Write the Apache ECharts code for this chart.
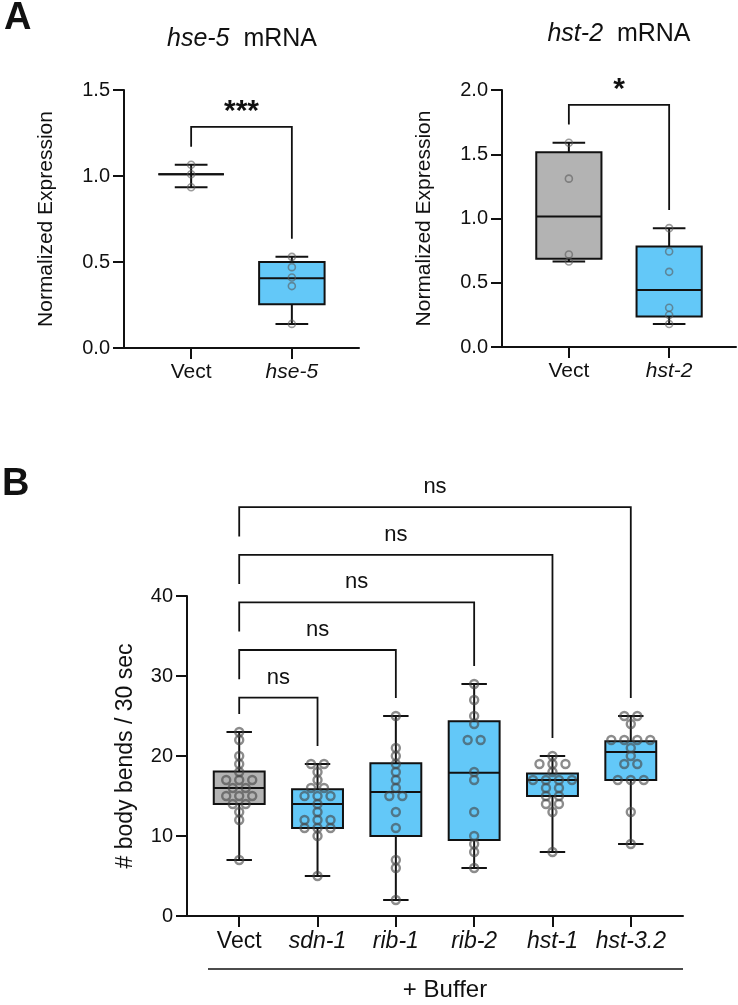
<!DOCTYPE html>
<html><head><meta charset="utf-8">
<script src="https://cdn.jsdelivr.net/npm/echarts@6/dist/echarts.min.js"></script>
<style>html,body{margin:0;padding:0;background:#fff}#c{width:738px;height:1005px}</style>
</head><body><div id="c"></div>
<script>
// ---------------- Data ----------------
// Panel A, left: hse-5 mRNA
const hse5Categories = ['Vect', 'hse-5'];
const hse5Points = [
  [1.065, 1.01, 0.935],
  [0.53, 0.47, 0.41, 0.36, 0.14]
];
// [min, Q1, median, Q3, max]
const hse5Box = [
  [0.935, 1.01, 1.01, 1.01, 1.065],
  [0.14, 0.255, 0.405, 0.50, 0.53]
];
const hse5Sig = '***';

// Panel A, right: hst-2 mRNA
const hst2Categories = ['Vect', 'hst-2'];
const hst2Points = [
  [1.59, 1.31, 0.72, 0.665],
  [0.925, 0.743, 0.585, 0.305, 0.249, 0.179]
];
const hst2Box = [
  [0.665, 0.686, 1.015, 1.515, 1.59],
  [0.179, 0.238, 0.443, 0.782, 0.925]
];
const hst2Sig = '*';

// Panel B: body bends / 30 sec
const bendCategories = ['Vect', 'sdn-1', 'rib-1', 'rib-2', 'hst-1', 'hst-3.2'];
const bendPoints = [
  [23, 22, 20, 19, 18, 17, 17, 17, 16, 16, 15, 15, 15, 14, 14, 13, 12, 7],
  [19, 19, 18, 17, 16, 16, 15, 15, 15, 14, 13, 12, 12, 12, 11, 11, 11, 10, 5],
  [25, 21, 20, 19, 18, 17, 16, 15, 15, 13, 11, 7, 6, 2],
  [29, 27, 25, 24, 22, 22, 18, 17, 13, 10, 9, 8, 6],
  [20, 19, 19, 19, 18, 17, 17, 17, 17, 16, 16, 15, 15, 14, 14, 13, 8],
  [25, 25, 24, 22, 22, 22, 22, 21, 20, 19, 19, 17, 17, 17, 13, 9]
];
const bendBox = [
  [7, 14, 16, 18.05, 23],
  [5, 11, 14, 15.85, 19],
  [2, 10, 15.5, 19.1, 25],
  [6, 9.5, 17.9, 24.35, 29],
  [8, 15, 17, 17.8, 20],
  [9, 17, 20.5, 21.85, 25]
];
const bendSig = ['ns', 'ns', 'ns', 'ns', 'ns'];
const bendGroupLabel = '+ Buffer';

// ---------------- Styling / helpers ----------------
const FONT = '"Liberation Sans", Arial, Helvetica, sans-serif';
const INK = '#111';
const GREY = '#b3b3b3';
const BLUE = '#63c8f8';
const BOX_W = 0.65, CAP_W = 0.325;

function boxSeries(idx, boxes, lw) {
  return {
    type: 'custom', xAxisIndex: idx, yAxisIndex: idx, z: 2, clip: false, silent: true,
    data: boxes.map((b, i) => [i + 1].concat(b)),
    encode: { x: 0, y: [1, 2, 3, 4, 5] },
    renderItem(params, api) {
      const x = api.value(0);
      const mn = api.value(1), q1 = api.value(2), md = api.value(3), q3 = api.value(4), mx = api.value(5);
      const c = api.coord([x, md])[0];
      const y = v => api.coord([x, v])[1];
      const hw = api.size([BOX_W, 0])[0] / 2;
      const hc = api.size([CAP_W, 0])[0] / 2;
      const st = { stroke: INK, lineWidth: lw, fill: null };
      return { type: 'group', children: [
        { type: 'line', shape: { x1: c, y1: y(mx), x2: c, y2: y(q3) }, style: st },
        { type: 'line', shape: { x1: c, y1: y(q1), x2: c, y2: y(mn) }, style: st },
        { type: 'line', shape: { x1: c - hc, y1: y(mx), x2: c + hc, y2: y(mx) }, style: st },
        { type: 'line', shape: { x1: c - hc, y1: y(mn), x2: c + hc, y2: y(mn) }, style: st },
        { type: 'rect', shape: { x: c - hw, y: y(q3), width: 2 * hw, height: y(q1) - y(q3) },
          style: { fill: params.dataIndex === 0 ? GREY : BLUE, stroke: INK, lineWidth: lw } },
        { type: 'line', shape: { x1: c - hw, y1: y(md), x2: c + hw, y2: y(md) }, style: st }
      ]};
    }
  };
}

function pointSeries(idx, groups, d, size, bw, color) {
  const data = [];
  groups.forEach((vals, gi) => {
    const counts = {}, seen = {};
    vals.forEach(v => { counts[v] = (counts[v] || 0) + 1; });
    vals.forEach(v => {
      const k = counts[v], j = seen[v] || 0;
      seen[v] = j + 1;
      data.push({ value: [gi + 1, v], symbolOffset: [(j - (k - 1) / 2) * d, 0] });
    });
  });
  return {
    type: 'scatter', xAxisIndex: idx, yAxisIndex: idx, z: 5, silent: true,
    symbol: 'circle', symbolSize: size, data,
    itemStyle: { color: 'rgba(0,0,0,0)', borderColor: color, borderWidth: bw, opacity: 1 }
  };
}

function bracketSeries(idx, brackets, lw, textStyle, textGap) {
  return {
    type: 'custom', xAxisIndex: idx, yAxisIndex: idx, z: 4, clip: false, silent: true,
    data: brackets.map(b => [b.x1, b.x2, b.line, b.left, b.right]),
    encode: { x: [0, 1], y: [2] },
    renderItem(params, api) {
      const p = (x, v) => api.coord([x, v]);
      const x1 = api.value(0), x2 = api.value(1), ln = api.value(2), lf = api.value(3), rt = api.value(4);
      const a = p(x1, lf), b = p(x1, ln), c = p(x2, ln), d = p(x2, rt);
      return { type: 'group', children: [
        { type: 'polyline', shape: { points: [a, b, c, d] }, style: { stroke: INK, lineWidth: lw, fill: null } },
        { type: 'text', style: Object.assign({ x: (b[0] + c[0]) / 2, y: b[1] - textGap,
            text: brackets[params.dataIndex].text, align: 'center', verticalAlign: 'bottom', fill: INK,
            fontFamily: FONT }, textStyle) }
      ]};
    }
  };
}

function catAxis(idx, cats, fontSize) {
  return {
    type: 'value', gridIndex: idx, min: 1 / 3, max: cats.length + 2 / 3,
    splitLine: { show: false },
    axisLine: { show: true, lineStyle: { color: INK, width: 2 } },
    axisTick: { show: true, length: 11, lineStyle: { color: INK, width: 2 },
      customValues: cats.map((c, i) => i + 1) },
    axisLabel: {
      customValues: cats.map((c, i) => i + 1), margin: 14, color: INK, fontSize, fontFamily: FONT,
      formatter: v => { const t = cats[Math.round(v) - 1]; return t === 'Vect' ? t : '{i|' + t + '}'; },
      rich: { i: { fontStyle: 'italic', fontSize, fontFamily: FONT, color: INK } }
    }
  };
}

function valAxis(idx, max, interval, name, nameGap, fontSize, nameSize, fmt) {
  return {
    type: 'value', gridIndex: idx, min: 0, max, interval,
    splitLine: { show: false },
    axisLine: { show: true, lineStyle: { color: INK, width: 2 } },
    axisTick: { show: true, length: 11, lineStyle: { color: INK, width: 2 } },
    axisLabel: { margin: 14, color: INK, fontSize, fontFamily: FONT, formatter: fmt },
    name, nameLocation: 'middle', nameGap, nameRotate: 90,
    nameTextStyle: { fontSize: nameSize, color: INK, fontFamily: FONT }
  };
}

// bracket geometry (data units derived from group maxima)
const hse5Legs = 0.105, hse5Rise = 0.116;
const hse5Bracket = [{ x1: 1, x2: 2, left: hse5Box[0][4] + hse5Legs, right: hse5Box[1][4] + hse5Legs,
  line: hse5Box[0][4] + hse5Legs + hse5Rise, text: hse5Sig }];
const hst2Legs = 0.142, hst2Rise = 0.153;
const hst2Bracket = [{ x1: 1, x2: 2, left: hst2Box[0][4] + hst2Legs, right: hst2Box[1][4] + hst2Legs,
  line: hst2Box[0][4] + hst2Legs + hst2Rise, text: hst2Sig }];
const bLeg = 2.25, bStep = 5.95, bFirstRise = 2.05, bLeftRise = 2.3;
const bendBrackets = [];
bendSig.forEach((s, k) => {
  const prev = bendBrackets[k - 1];
  const left = k === 0 ? bendBox[0][4] + bLeg : prev.line + bLeftRise;
  const line = k === 0 ? left + bFirstRise : prev.line + bStep;
  bendBrackets.push({ x1: 1, x2: k + 2, left, right: bendBox[k + 1][4] + bLeg, line, text: s });
});

const chart = echarts.init(document.getElementById('c'), null, { renderer: 'canvas' });
chart.setOption({
  backgroundColor: '#fff',
  animation: false,
  textStyle: { fontFamily: FONT },
  title: [
    { text: '{i|hse-5}  mRNA', left: 242, top: 27, textAlign: 'center', padding: 0,
      textStyle: { fontSize: 25, fontWeight: 'normal', color: INK, fontFamily: FONT,
        rich: { i: { fontStyle: 'italic', fontSize: 25, color: INK, fontFamily: FONT } } } },
    { text: '{i|hst-2}  mRNA', left: 619, top: 22, textAlign: 'center', padding: 0,
      textStyle: { fontSize: 25, fontWeight: 'normal', color: INK, fontFamily: FONT,
        rich: { i: { fontStyle: 'italic', fontSize: 25, color: INK, fontFamily: FONT } } } }
  ],
  grid: [
    { left: 124, top: 90, width: 235, height: 258 },
    { left: 502, top: 90, width: 234, height: 257 },
    { left: 187, top: 596, width: 496, height: 320 }
  ],
  xAxis: [catAxis(0, hse5Categories, 21), catAxis(1, hst2Categories, 21), catAxis(2, bendCategories, 23)],
  yAxis: [
    valAxis(0, 1.5, 0.5, 'Normalized Expression', 67, 20, 21, v => v.toFixed(1)),
    valAxis(1, 2.0, 0.5, 'Normalized Expression', 67, 20, 21, v => v.toFixed(1)),
    valAxis(2, 40, 10, '# body bends / 30 sec', 50, 20, 23, v => String(v))
  ],
  series: [
    boxSeries(0, hse5Box, 2),
    pointSeries(0, hse5Points, 9, 7, 1.6, 'rgba(90,90,90,0.6)'),
    bracketSeries(0, hse5Bracket, 1.8, { fontSize: 30, fontWeight: 'bold' }, 0),
    boxSeries(1, hst2Box, 2),
    pointSeries(1, hst2Points, 9, 7, 1.6, 'rgba(90,90,90,0.6)'),
    bracketSeries(1, hst2Bracket, 1.8, { fontSize: 30, fontWeight: 'bold' }, 0),
    boxSeries(2, bendBox, 2),
    pointSeries(2, bendPoints, 13, 8, 2.4, 'rgba(70,70,70,0.62)'),
    bracketSeries(2, bendBrackets, 1.8, { fontSize: 22 }, 9)
  ],
  graphic: [
    { type: 'text', left: 4, top: 0, style: { text: 'A', fontSize: 38, fontWeight: 'bold', fill: INK, fontFamily: FONT } },
    { type: 'text', left: 2, top: 466, style: { text: 'B', fontSize: 38, fontWeight: 'bold', fill: INK, fontFamily: FONT } },
    { type: 'line', shape: { x1: 208, y1: 969, x2: 683, y2: 969 }, style: { stroke: INK, lineWidth: 1.5 } },
    { type: 'text', x: 445, y: 990, style: { text: bendGroupLabel, fontSize: 24, fill: INK, fontFamily: FONT,
        align: 'center', verticalAlign: 'middle' } }
  ]
});
</script>
</body></html>
